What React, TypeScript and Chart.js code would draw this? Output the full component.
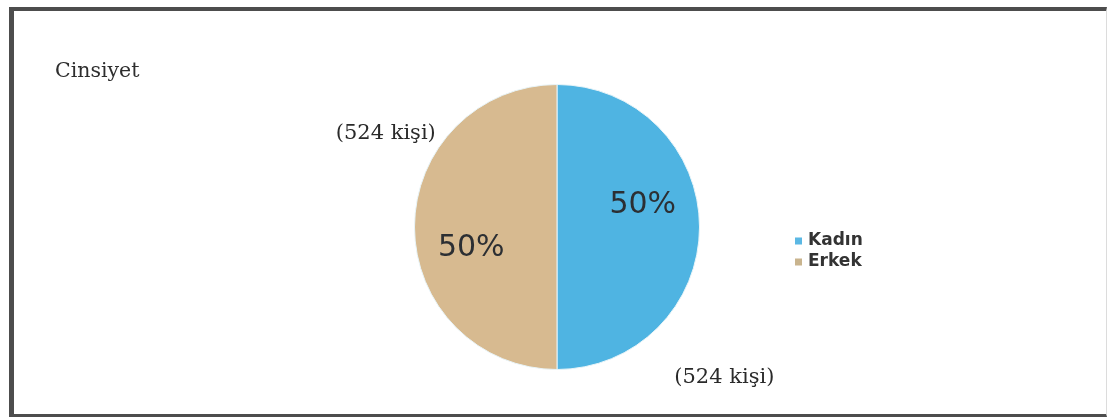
import React, { useEffect, useRef } from 'react';
import { Chart, registerables } from 'chart.js';

Chart.register(...registerables);

// Gender split of the respondents
const categories = ['Kadın', 'Erkek'];
const counts = [524, 524];
const sliceColors = ['#4fb4e2', '#d7ba90'];
const legendMarkerColors = ['#5bb8e4', '#c9b48e'];
const titleText = 'Cinsiyet';

const total = counts.reduce((a, b) => a + b, 0);
const percentLabels = counts.map((c) => `${Math.round((c / total) * 100)}%`);
const countLabels = counts.map((c) => `(${c} kişi)`);

const deg = Math.PI / 180;

// Draws the title, percentage labels inside the slices, the "(n kişi)" notes outside, and the legend.
const annotations = {
  id: 'pieAnnotations',
  afterDatasetsDraw(chart: any) {
    const { ctx, chartArea } = chart;
    const meta = chart.getDatasetMeta(0);
    ctx.save();

    // title
    ctx.fillStyle = '#2e2e2e';
    ctx.font = '20.5px "DejaVu Serif"';
    ctx.textAlign = 'left';
    ctx.textBaseline = 'alphabetic';
    ctx.fillText(titleText, 41, 66);

    // offsets of the outer notes relative to each slice's middle angle
    const notePlacement = [
      { turn: 42, dist: 1.58 },
      { turn: 28.7, dist: 1.37 },
    ];

    meta.data.forEach((arc: any, i: number) => {
      const { x, y, startAngle, endAngle, outerRadius } = arc.getProps(
        ['x', 'y', 'startAngle', 'endAngle', 'outerRadius'],
        true
      );
      const mid = (startAngle + endAngle) / 2;

      // percentage inside the slice
      const a = mid - 14 * deg;
      const r = 0.62 * outerRadius;
      ctx.fillStyle = '#2c2f33';
      ctx.font = '30px "DejaVu Sans"';
      ctx.textAlign = 'center';
      ctx.textBaseline = 'middle';
      ctx.fillText(percentLabels[i], x + r * Math.cos(a), y + r * Math.sin(a));

      // count note outside the slice
      const p = notePlacement[i];
      const b = mid + p.turn * deg;
      const d = p.dist * outerRadius;
      ctx.fillStyle = '#2a2a2a';
      ctx.font = '21px "DejaVu Serif"';
      ctx.fillText(countLabels[i], x + d * Math.cos(b), y + d * Math.sin(b));
    });

    // legend
    const lx = chartArea.right + 95;
    const cy = (chartArea.top + chartArea.bottom) / 2;
    const rowGap = 21;
    categories.forEach((name, i) => {
      const ty = cy + 14 + i * rowGap;
      ctx.fillStyle = legendMarkerColors[i];
      ctx.fillRect(lx, ty - 3.5, 7, 7);
      ctx.fillStyle = '#333333';
      ctx.font = 'bold 17px "DejaVu Sans"';
      ctx.textAlign = 'left';
      ctx.textBaseline = 'middle';
      ctx.fillText(name, lx + 13, ty);
    });

    ctx.restore();
  },
};

export default function App() {
  const canvasRef = useRef<HTMLCanvasElement | null>(null);

  useEffect(() => {
    if (!canvasRef.current) return;
    const chart = new Chart(canvasRef.current, {
      type: 'pie',
      data: {
        labels: categories,
        datasets: [
          {
            data: counts,
            backgroundColor: sliceColors,
            borderColor: '#e8f4f8',
            borderWidth: 1,
          },
        ],
      },
      options: {
        animation: false,
        responsive: true,
        maintainAspectRatio: false,
        layout: { padding: { left: 400, right: 406, top: 73, bottom: 44 } },
        plugins: {
          legend: { display: false },
          title: { display: false },
          tooltip: { enabled: false },
        },
      },
      plugins: [annotations],
    });
    return () => chart.destroy();
  }, []);

  return (
    <div
      style={{
        position: 'absolute',
        left: 9,
        top: 7,
        width: 1098,
        height: 410,
        boxSizing: 'border-box',
        borderTop: '4px solid #4d4d4d',
        borderLeft: '5px solid #4d4d4d',
        borderBottom: '3px solid #4d4d4d',
        borderRight: '1px solid #dcdcdc',
        background: '#ffffff',
      }}
    >
      <div style={{ position: 'relative', width: 1092, height: 403 }}>
        <canvas ref={canvasRef} />
      </div>
    </div>
  );
}
